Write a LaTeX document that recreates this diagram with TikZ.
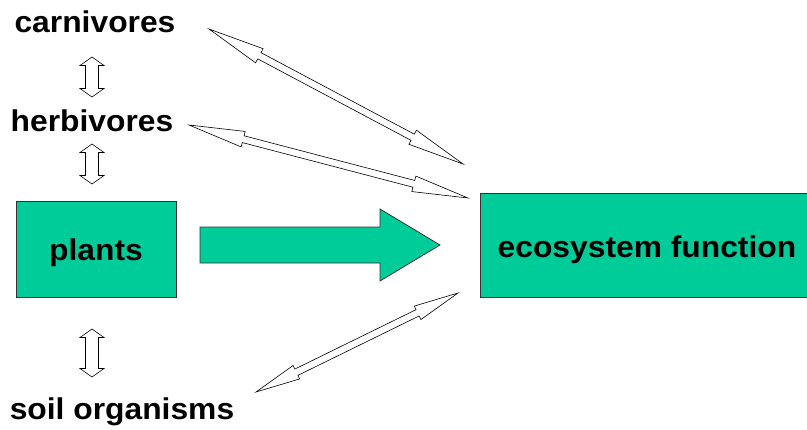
\documentclass[tikz,border=0pt]{standalone}
\usepackage{fontspec}
\setmainfont{Liberation Sans}[FakeStretch=1.06]
\usetikzlibrary{calc}
\definecolor{boxgreen}{RGB}{0,204,153}
\definecolor{edgegray}{RGB}{50,50,50}
\newcommand\dblarrow[5]{% from, to, head length, head half width, shaft half width
  \draw[arrowline] (#1) -- ($(#1)!#3!(#2)!#4!90:(#2)$) -- ($(#1)!#3!(#2)!#5!90:(#2)$)
    -- ($(#2)!#3!(#1)!#5!-90:(#1)$) -- ($(#2)!#3!(#1)!#4!-90:(#1)$) -- (#2)
    -- ($(#2)!#3!(#1)!#4!90:(#1)$) -- ($(#2)!#3!(#1)!#5!90:(#1)$)
    -- ($(#1)!#3!(#2)!#5!-90:(#2)$) -- ($(#1)!#3!(#2)!#4!-90:(#2)$) -- cycle;}
\begin{document}
\begin{tikzpicture}[x=1pt,y=-1pt,
  arrowline/.style={draw=black, fill=white, line width=0.6pt, line join=miter},
  label/.style={font=\fontsize{30}{34}\selectfont\bfseries, inner sep=0pt, anchor=base},
  greenbox/.style={draw=edgegray, fill=boxgreen, line width=0.8pt, inner sep=0pt},
  bigarrow/.style={draw=edgegray, fill=boxgreen, line width=0.8pt, line join=miter}]
\useasboundingbox (0,0) rectangle (807,429);
% boxes
\node[greenbox, minimum width=160pt, minimum height=96pt] (plants) at (96,249) {};
\node[label] at (96,260) {plants};
\node[greenbox, minimum width=330pt, minimum height=104pt] (eco) at (645,245) {};
\node[label] at (647,257) {ecosystem function};
% labels
\node[label] (carn) at (95,32) {carnivores};
\node[label] (herb) at (92,131) {herbivores};
\node[label] (soil) at (122,419) {soil organisms};
% vertical double arrows
\coordinate (v1a) at (92,57);  \coordinate (v1b) at (92,97);
\coordinate (v2a) at (92,144); \coordinate (v2b) at (92,184);
\coordinate (v3a) at (92,329); \coordinate (v3b) at (92,377);
\dblarrow{v1a}{v1b}{8.5pt}{12pt}{6.5pt}
\dblarrow{v2a}{v2b}{8.5pt}{12pt}{6.5pt}
\dblarrow{v3a}{v3b}{8.5pt}{12pt}{6.5pt}
% diagonal double arrows
\coordinate (d1a) at (209,29);  \coordinate (d1b) at (463,164);
\coordinate (d2a) at (189,125); \coordinate (d2b) at (468,198);
\coordinate (d3a) at (256,392); \coordinate (d3b) at (458,293);
\dblarrow{d1a}{d1b}{57pt}{8pt}{3.5pt}
\dblarrow{d2a}{d2b}{56pt}{8pt}{3.5pt}
\dblarrow{d3a}{d3b}{45pt}{7.5pt}{3.5pt}
% big arrow plants -> ecosystem function
\coordinate (bt) at (200,245);
\coordinate (btip) at (440,245);
\draw[bigarrow] ($(bt)+(0,-18)$) -- ($(btip)+(-60,-18)$) -- ($(btip)+(-60,-36)$) -- (btip)
  -- ($(btip)+(-60,36)$) -- ($(btip)+(-60,18)$) -- ($(bt)+(0,18)$) -- cycle;
\end{tikzpicture}
\end{document}
